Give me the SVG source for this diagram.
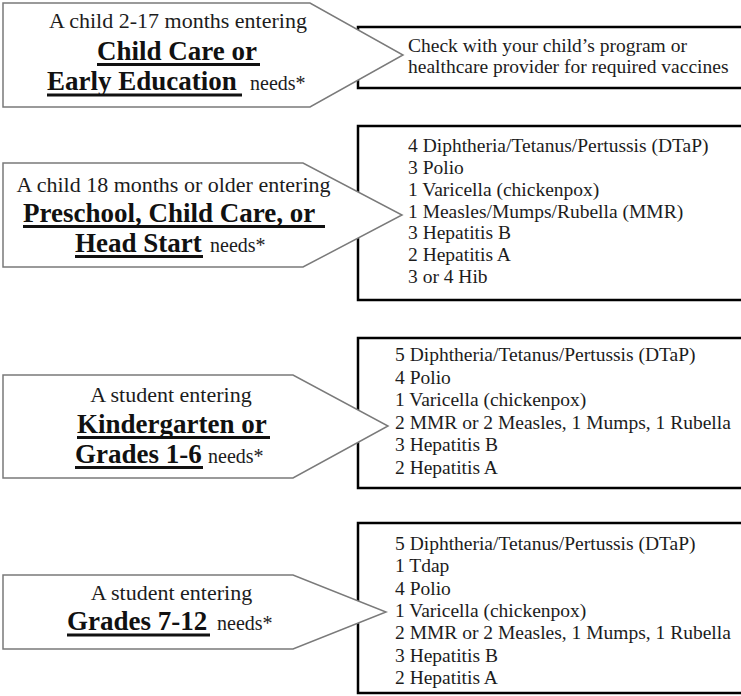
<svg xmlns="http://www.w3.org/2000/svg" width="741" height="696" viewBox="0 0 741 696">
<style>
.box{fill:#fff;stroke:#000;stroke-width:2.5}
.arrow{fill:#fff;stroke:#7a7a7a;stroke-width:1.5;stroke-linejoin:miter}
.t{font-family:"Liberation Serif","Times New Roman",serif;fill:#1c1c1c}
.lead{font-size:22px}
.big{font-size:27px;font-weight:bold;fill:#111}
.needs{font-size:20px}
.list{font-size:19.5px}
.ul{stroke:#111;stroke-width:3}
</style>
<rect width="741" height="696" fill="#fff"/>
<g id="box1">
<rect class="box" x="358" y="27" width="400" height="61"/>
<text class="t list" x="408" y="52">Check with your child’s program or</text>
<text class="t list" x="408" y="73">healthcare provider for required vaccines</text>
</g>
<g id="box2">
<rect class="box" x="358" y="126" width="400" height="174"/>
<text class="t list" x="408" y="152">4 Diphtheria/Tetanus/Pertussis (DTaP)</text>
<text class="t list" x="408" y="174">3 Polio</text>
<text class="t list" x="408" y="195.5">1 Varicella (chickenpox)</text>
<text class="t list" x="408" y="217.5">1 Measles/Mumps/Rubella (MMR)</text>
<text class="t list" x="408" y="239">3 Hepatitis B</text>
<text class="t list" x="408" y="261">2 Hepatitis A</text>
<text class="t list" x="408" y="283">3 or 4 Hib</text>
</g>
<g id="box3">
<rect class="box" x="358" y="338" width="400" height="150"/>
<text class="t list" x="395" y="361">5 Diphtheria/Tetanus/Pertussis (DTaP)</text>
<text class="t list" x="395" y="383.6">4 Polio</text>
<text class="t list" x="395" y="406.2">1 Varicella (chickenpox)</text>
<text class="t list" x="395" y="428.8">2 MMR or 2 Measles, 1 Mumps, 1 Rubella</text>
<text class="t list" x="395" y="451.4">3 Hepatitis B</text>
<text class="t list" x="395" y="474">2 Hepatitis A</text>
</g>
<g id="box4">
<rect class="box" x="358" y="523" width="400" height="170"/>
<text class="t list" x="395" y="550">5 Diphtheria/Tetanus/Pertussis (DTaP)</text>
<text class="t list" x="395" y="572.3">1 Tdap</text>
<text class="t list" x="395" y="594.6">4 Polio</text>
<text class="t list" x="395" y="616.9">1 Varicella (chickenpox)</text>
<text class="t list" x="395" y="639.2">2 MMR or 2 Measles, 1 Mumps, 1 Rubella</text>
<text class="t list" x="395" y="661.5">3 Hepatitis B</text>
<text class="t list" x="395" y="683.8">2 Hepatitis A</text>
</g>
<g id="connectors"></g>
<g id="arrow1">
<polygon class="arrow" points="3,3 310,3 403,55 310,107 3,107"/>
<text class="t lead" x="178" y="28" text-anchor="middle">A child 2-17 months entering</text>
<text class="t big" x="97" y="60">Child Care or</text>
<line class="ul" x1="97" y1="64.5" x2="260" y2="64.5"/>
<text class="t big" x="47" y="90">Early Education</text>
<line class="ul" x1="47" y1="95" x2="242" y2="95"/>
<text class="t needs" x="250" y="90">needs*</text>
</g>
<g id="arrow2">
<polygon class="arrow" points="3,163 303,163 402,215 303,267 3,267"/>
<text class="t lead" x="173.5" y="192" text-anchor="middle">A child 18 months or older entering</text>
<text class="t big" x="23" y="222">Preschool, Child Care, or</text>
<line class="ul" x1="23" y1="226.5" x2="325" y2="226.5"/>
<text class="t big" x="75" y="252">Head Start</text>
<line class="ul" x1="75" y1="256.5" x2="203" y2="256.5"/>
<text class="t needs" x="210" y="252">needs*</text>
</g>
<g id="arrow3">
<polygon class="arrow" points="3,375 293,375 388,426 293,478 3,478"/>
<text class="t lead" x="171" y="402" text-anchor="middle">A student entering</text>
<text class="t big" x="77" y="433">Kindergarten or</text>
<line class="ul" x1="77" y1="437.5" x2="270" y2="437.5"/>
<text class="t big" x="75" y="463">Grades 1-6</text>
<line class="ul" x1="75" y1="467.5" x2="203" y2="467.5"/>
<text class="t needs" x="208" y="463">needs*</text>
</g>
<g id="arrow4">
<polygon class="arrow" points="3,575 293,575 386,612 293,649 3,649"/>
<text class="t lead" x="171.5" y="600" text-anchor="middle">A student entering</text>
<text class="t big" x="67" y="630">Grades 7-12</text>
<line class="ul" x1="67" y1="635" x2="210" y2="635"/>
<text class="t needs" x="217" y="630">needs*</text>
</g>
</svg>
